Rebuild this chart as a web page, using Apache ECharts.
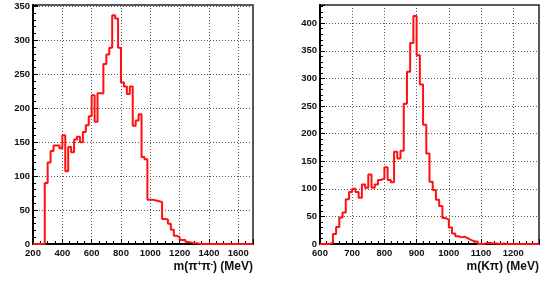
<!DOCTYPE html>
<html>
<head>
<meta charset="utf-8">
<script src="https://cdn.jsdelivr.net/npm/echarts@6/dist/echarts.min.js"></script>
<style>
  html, body { margin: 0; padding: 0; background: #fff; }
  #chart { width: 543px; height: 282px; }
</style>
</head>
<body>
<div id="chart"></div>
<script>
// m(pi+pi-) histogram: 20 MeV bins starting at 200 MeV
var pipiLo = 200, pipiBin = 20;
var pipiCounts = [
  0, 0, 0, 0,
  90, 120, 137, 145, 145, 141,
  160, 107, 143, 135, 154, 158, 150, 165, 175, 188,
  219, 180, 222, 222, 265, 279, 289, 337, 332, 289,
  238, 232, 221, 232, 174, 182, 191, 128, 125, 65,
  65, 64, 63, 62, 37, 36, 30, 21, 12, 10,
  6, 6, 3, 2, 1, 1,
  0, 0, 0, 0, 0, 0, 0, 0, 0, 0, 0, 0, 0, 0, 0, 0, 0, 0, 0
];
// m(K pi) histogram: 10 MeV bins starting at 600 MeV
var kpiLo = 600, kpiBin = 10;
var kpiCounts = [
  0, 0, 0, 2,
  18, 31, 48, 57, 81, 94, 100, 94, 84, 108,
  102, 126, 102, 108, 116, 119, 139, 116, 112, 167,
  155, 169, 254, 312, 364, 413, 342, 289, 216, 164,
  113, 98, 80, 69, 47, 44, 30, 19, 14, 12,
  13, 10, 7, 5, 4, 0, 0, 2, 2, 1,
  1, 0, 1, 0,
  0, 0, 0, 0, 0, 0, 0, 0, 0, 0
];

// bin edges -> step points (value held over [edge, edge + bin])
function stepData(lo, bin, counts) {
  var pts = counts.map(function (c, i) { return [lo + i * bin, c]; });
  pts.push([lo + counts.length * bin, counts[counts.length - 1]]);
  return pts;
}

var chart = echarts.init(document.getElementById("chart"), null, { renderer: "canvas" });

var font = "Liberation Sans";
var labelStyle = { color: "#111", fontSize: 9.5, fontWeight: "bold", fontFamily: font, formatter: function (v) { return String(v); } };
var gridLine = { show: true, lineStyle: { color: "#555", type: [1, 2], width: 1 } };
var axLine = { show: true, onZero: false, lineStyle: { color: "#000", width: 2 } };
var tick = { show: true, inside: true, length: 5, lineStyle: { color: "#000", width: 1 } };
var supRich = {
  sup: { fontSize: 7, fontWeight: "bold", fontFamily: font, color: "#111", verticalAlign: "top", padding: [0, 0, 5, 0] }
};

function xAxisFor(idx, min, max, interval, minorSplit, name) {
  return {
    type: "value", gridIndex: idx, min: min, max: max, interval: interval,
    axisLine: axLine,
    axisTick: tick,
    minorTick: { show: true, splitNumber: minorSplit, length: 3, lineStyle: { color: "#000" } },
    splitLine: gridLine,
    axisLabel: Object.assign({ margin: 4, showMaxLabel: false }, labelStyle),
    name: name,
    nameLocation: "end",
    nameGap: 0,
    nameTextStyle: {
      color: "#111", fontSize: 12, fontWeight: "bold", fontFamily: font,
      align: "right", verticalAlign: "top", padding: [17, 0, 0, 0], rich: supRich
    }
  };
}
function yAxisFor(idx, max) {
  return {
    type: "value", gridIndex: idx, min: 0, max: max, interval: 50,
    axisLine: axLine,
    axisTick: tick,
    minorTick: { show: true, splitNumber: 5, length: 3, lineStyle: { color: "#000" } },
    splitLine: gridLine,
    axisLabel: Object.assign({ margin: 3, showMaxLabel: false }, labelStyle)
  };
}

chart.setOption({
  animation: false,
  backgroundColor: "#fff",
  grid: [
    { left: 33, right: 290, top: 5, bottom: 38, show: true, borderColor: "#222", borderWidth: 1.5, backgroundColor: "#fff" },
    { left: 320, right: 4, top: 5, bottom: 38, show: true, borderColor: "#222", borderWidth: 1.5, backgroundColor: "#fff" }
  ],
  xAxis: [
    xAxisFor(0, 200, 1700, 200, 4, "m(π{sup|+}π{sup|-}) (MeV)"),
    xAxisFor(1, 600, 1280, 100, 5, "m(Kπ) (MeV)")
  ],
  yAxis: [yAxisFor(0, 352), yAxisFor(1, 433)],
  series: [
    {
      type: "line", xAxisIndex: 0, yAxisIndex: 0, step: "end", symbol: "none",
      lineStyle: { color: "#ff1010", width: 2 },
      data: stepData(pipiLo, pipiBin, pipiCounts)
    },
    {
      type: "line", xAxisIndex: 1, yAxisIndex: 1, step: "end", symbol: "none",
      lineStyle: { color: "#ff1010", width: 2 },
      data: stepData(kpiLo, kpiBin, kpiCounts)
    }
  ]
});
</script>
</body>
</html>
